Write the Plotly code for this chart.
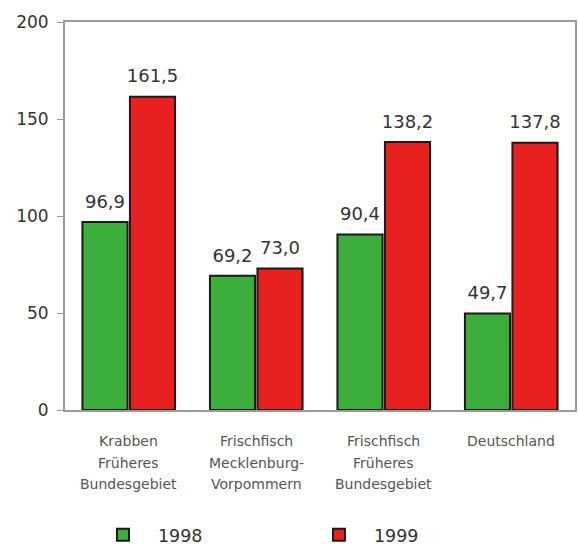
import plotly.graph_objects as go

categories = ["Krabben<br>Früheres<br>Bundesgebiet",
              "Frischfisch<br>Mecklenburg-<br>Vorpommern",
              "Frischfisch<br>Früheres<br>Bundesgebiet",
              "Deutschland"]
values_1998 = [96.9, 69.2, 90.4, 49.7]
values_1999 = [161.5, 73.0, 138.2, 137.8]
series_names = ["1998", "1999"]
y_ticks = [0, 50, 100, 150, 200]

FONT = "DejaVu Sans, Liberation Sans, Arial, sans-serif"

def fmt(v):
    return f"{v:.1f}".replace(".", ",")

fig = go.Figure()
series = [(series_names[0], values_1998, "#3cae3c"),
          (series_names[1], values_1999, "#e8201f")]
for name, vals, color in series:
    fig.add_trace(go.Bar(
        x=categories, y=vals, name=name, offsetgroup=name,
        marker=dict(color=color, line=dict(color="#1a1a1a", width=2)),
    ))
# value labels, lifted above the bars
for name, vals, color in series:
    fig.add_trace(go.Scatter(
        x=categories, y=vals, mode="markers+text", offsetgroup=name,
        marker=dict(size=14, opacity=0), text=[fmt(v) for v in vals],
        textposition="top center", showlegend=False, hoverinfo="skip",
        textfont=dict(family=FONT, size=18, color="#333333"), cliponaxis=False,
    ))

# category labels, one annotation per line for wider line spacing
for cat in categories:
    for i, line in enumerate(cat.split("<br>")):
        fig.add_annotation(x=cat, xref="x", y=0, yref="paper", yanchor="middle",
                           yshift=-31 - 21.5 * i, text=line, showarrow=False,
                           font=dict(family=FONT, size=14, color="#555555"))

fig.update_layout(
    width=579, height=551,
    margin=dict(l=65, r=4, t=22, b=141, autoexpand=False),
    paper_bgcolor="white", plot_bgcolor="white",
    barmode="group", bargap=0.255, bargroupgap=0.05,
    scattermode="group", scattergap=0.255,
    font=dict(family=FONT, color="#333333"),
    showlegend=True,
    legend=dict(orientation="h", x=0.045, xanchor="left", y=-0.322, yanchor="middle",
                entrywidth=141, entrywidthmode="pixels", itemwidth=60,
                font=dict(family=FONT, size=17.5, color="#333333")),
    xaxis=dict(showline=True, linecolor="#9a9a9a", linewidth=2, mirror=True,
               ticks="", showticklabels=False, showgrid=False, automargin=False),
    yaxis=dict(range=[0, 200], tickvals=y_ticks, showline=True, linecolor="#9a9a9a",
               linewidth=2, mirror=True, ticks="outside", ticklen=6, tickcolor="#9a9a9a",
               ticklabelstandoff=5,
               tickfont=dict(family=FONT, size=17, color="#333333"), showgrid=False,
               zeroline=False, automargin=False),
)

fig.write_html("out.html", config={"displayModeBar": False},
               post_script="document.body.style.margin='0';")
